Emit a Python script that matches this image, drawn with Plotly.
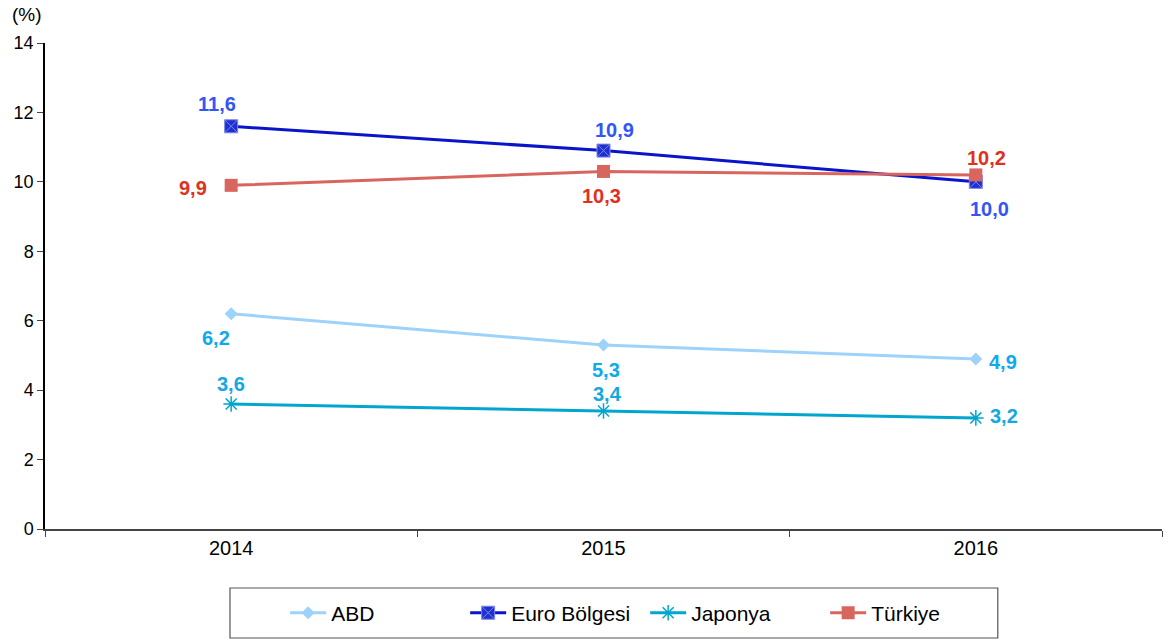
import plotly.graph_objects as go

years = ["2014", "2015", "2016"]
abd = [6.2, 5.3, 4.9]
euro = [11.6, 10.9, 10.0]
japonya = [3.6, 3.4, 3.2]
turkiye = [9.9, 10.3, 10.2]
y_ticks = [0, 2, 4, 6, 8, 10, 12, 14]

def lab(v):
    return f"{v:.1f}".replace(".", ",")

# label offsets in screen pixels (dx right, dy down)
series = [
    dict(name="ABD", y=abd, line="#9DD3FB", text="#0EAAEE",
         marker=dict(symbol="diamond", size=10, color="#9DD3FB"),
         offs=[(-15, 24), (2, 25), (27, 3)]),
    dict(name="Euro Bölgesi", y=euro, line="#0A14C8", text="#3355F5",
         marker=dict(symbol="square-x", size=13, color="#1F2FD0", line=dict(color="#7B86E8", width=1)),
         offs=[(-14, -22), (11, -21), (14, 27)]),
    dict(name="Japonya", y=japonya, line="#00A6CE", text="#13A8DF",
         marker=dict(symbol="asterisk-open", size=13, line=dict(color="#3BB8D8", width=1.5)),
         offs=[(0, -20), (4, -17), (28, -2)]),
    dict(name="Türkiye", y=turkiye, line="#D9655F", text="#E0301E",
         marker=dict(symbol="square", size=13, color="#D9655F"),
         offs=[(-38, 3), (-2, 25), (11, -17)]),
]

fig = go.Figure()
annotations = []
for s in series:
    fig.add_trace(go.Scatter(
        x=years, y=s["y"], name=s["name"], mode="lines+markers",
        line=dict(color=s["line"], width=3), marker=s["marker"],
    ))
    for i, (yv, (dx, dy)) in enumerate(zip(s["y"], s["offs"])):
        annotations.append(dict(
            x=i, y=yv, xref="x", yref="y", text=lab(yv), showarrow=False,
            xshift=dx, yshift=-dy,
            font=dict(family="Arial", size=20, color=s["text"], weight="bold"),
        ))

annotations.append(dict(text="(%)", x=-0.0313, y=1.084, xref="paper", yref="paper",
                        showarrow=False, xanchor="left", yanchor="top",
                        font=dict(size=19, family="Arial", color="black")))

fig.update_layout(
    width=1168, height=644,
    margin=dict(l=45, r=6, t=43, b=115, autoexpand=False),
    plot_bgcolor="white", paper_bgcolor="white",
    font=dict(family="Arial", size=16, color="black"),
    showlegend=True,
    legend=dict(orientation="h", x=0.215, y=-0.173, xanchor="left", yanchor="middle",
                borderwidth=0, font=dict(size=21), itemwidth=36, entrywidth=129,
                traceorder="normal", bgcolor="rgba(0,0,0,0)"),
    xaxis=dict(type="category", range=[-0.5, 2.5], showline=True, linecolor="#444444",
               linewidth=1.5, ticks="outside", tickson="boundaries", ticklen=6,
               tickcolor="#444444", showgrid=False, tickfont=dict(size=20), automargin=False),
    yaxis=dict(range=[0, 14], tickvals=y_ticks, showline=True, linecolor="black",
               linewidth=1.5, ticks="outside", ticklen=6, tickcolor="#444444",
               showgrid=False, zeroline=False, tickfont=dict(size=18), automargin=False),
    annotations=annotations,
    shapes=[dict(type="rect", xref="paper", yref="paper", x0=0.1656, x1=0.853,
                 y0=-0.2243, y1=-0.1214, line=dict(color="#555555", width=1.2))],
)
fig.write_html("out.html", post_script="document.body.style.margin='0';",
               config={"displayModeBar": False})
